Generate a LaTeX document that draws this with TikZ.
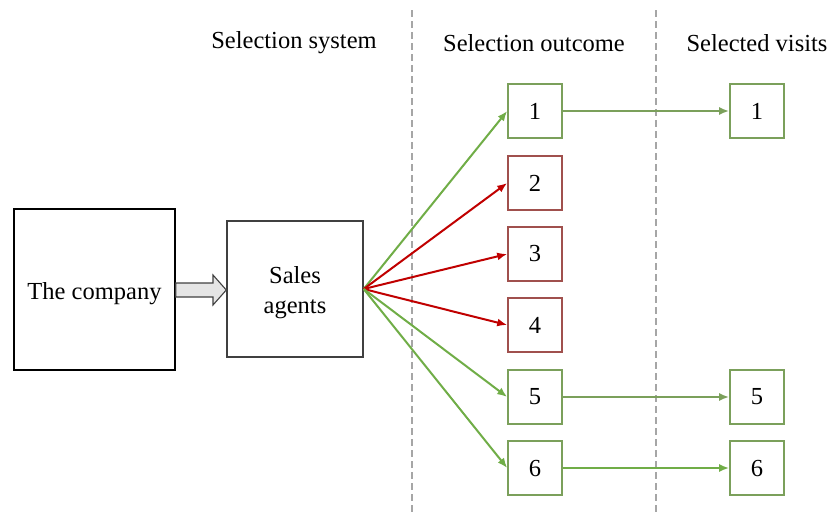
\documentclass[tikz,border=0pt]{standalone}
\usepackage{fontspec}
\setmainfont{Liberation Serif}
\usetikzlibrary{arrows.meta}
\definecolor{leafgreen}{HTML}{70AD47}
\definecolor{boxgreen}{HTML}{7BA05B}
\definecolor{darkred}{HTML}{C00000}
\definecolor{boxred}{HTML}{A0504D}
\definecolor{divider}{HTML}{A6A6A6}
\begin{document}
\begin{tikzpicture}[x=1pt,y=-1pt,
  font=\fontsize{24.5}{30}\selectfont,
  bigbox/.style={draw, line width=1.4pt, inner sep=0pt, align=center},
  okbox/.style={draw=boxgreen, line width=1.6pt, minimum width=54pt, minimum height=54pt, inner sep=0pt},
  nobox/.style={draw=boxred, line width=1.6pt, minimum width=54pt, minimum height=54pt, inner sep=0pt},
  okarrow/.style={draw=leafgreen, line width=2pt, -{Latex[length=10pt,width=8pt]}},
  noarrow/.style={draw=darkred, line width=2pt, -{Latex[length=10pt,width=8pt]}},
  header/.style={font=\fontsize{24.5}{30}\selectfont}
]
\useasboundingbox (0,0) rectangle (829,515);

% column dividers
\draw[divider, line width=1.3pt, dash pattern=on 7pt off 4pt] (412,10) -- (412,515);
\draw[divider, line width=1.3pt, dash pattern=on 7pt off 4pt] (656,10) -- (656,515);

% column headers
\node[header] (hsys) at (294,43) {Selection system};
\node[header] (hout) at (534,43) {Selection outcome};
\node[header] (hvis) at (757,43) {Selected visits};

% main boxes
\node[bigbox, draw=black, minimum width=161pt, minimum height=161pt] (company) at (94.5,289.5)
  {\raisebox{-9.5pt}[0pt][0pt]{The company}};
\node[bigbox, draw=black!75, minimum width=136pt, minimum height=136pt] (agents) at (295,289)
  {\raisebox{-10pt}[0pt][0pt]{\begin{tabular}{@{}c@{}}Sales\\agents\end{tabular}}};

% hollow block arrow between the two main boxes
\draw[line width=1.1pt, draw=black!75, fill=black!10]
  (company.east |- 0,283) -- (213,283) -- (213,275) -- (agents.west |- 0,290)
  -- (213,305) -- (213,297) -- (company.east |- 0,297) -- cycle;

% selection outcome column
\node[okbox] (o1) at (535,111) {1};
\node[nobox] (o2) at (535,183) {2};
\node[nobox] (o3) at (535,254) {3};
\node[nobox] (o4) at (535,325) {4};
\node[okbox] (o5) at (535,397) {5};
\node[okbox] (o6) at (535,468) {6};

% selected visits column
\node[okbox] (v1) at (757,111) {1};
\node[okbox] (v5) at (757,397) {5};
\node[okbox] (v6) at (757,468) {6};

% fan of selections from the sales agents
\coordinate (src) at (agents.east);
\draw[okarrow] (src) -- (o1.west);
\draw[noarrow] (src) -- (o2.west);
\draw[noarrow] (src) -- (o3.west);
\draw[noarrow] (src) -- (o4.west);
\draw[okarrow] (src) -- (o5.west);
\draw[okarrow] (src) -- (o6.west);

% accepted outcomes become visits
\draw[okarrow, draw=boxgreen] (o1) -- (v1);
\draw[okarrow, draw=boxgreen] (o5) -- (v5);
\draw[okarrow] (o6) -- (v6);
\end{tikzpicture}
\end{document}
